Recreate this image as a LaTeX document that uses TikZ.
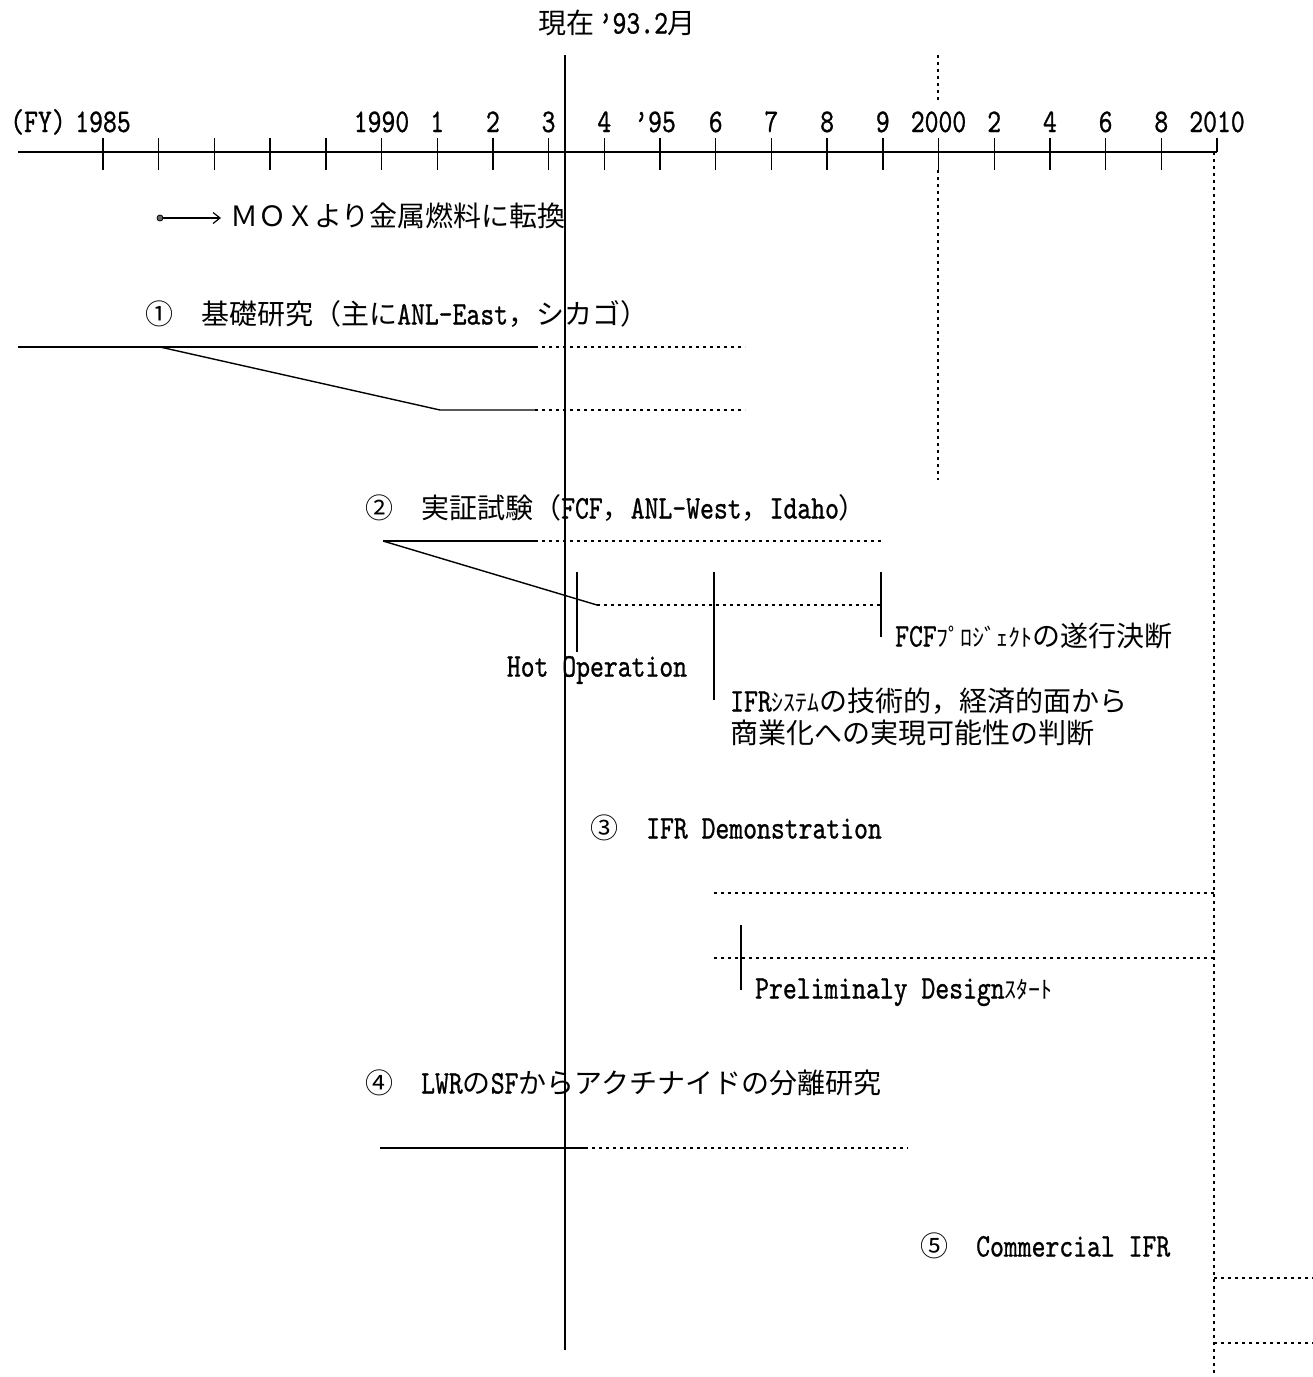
\documentclass[tikz,border=0pt]{standalone}
\usepackage{fontspec}
\usetikzlibrary{arrows.meta}
\newfontfamily\cjk{Noto Sans CJK JP}
\newfontfamily\latf[Extension=.otf, FakeStretch=0.8, FakeBold=0.8]{lmmono10-regular}
\newcommand\lt[1]{{\latf\fontsize{33}{33}\selectfont #1}}
\newcommand\hk[1]{{\fontsize{24}{24}\selectfont #1}}
\tikzset{
  jtxt/.style={font=\cjk\fontsize{28}{31}\selectfont, inner sep=0pt, anchor=west, text height=22pt, text depth=5pt},
  ltxt/.style={font=\latf\fontsize{33}{33}\selectfont, inner sep=0pt},
  solidln/.style={line width=1.4pt},
  dotln/.style={line width=1.4pt, dash pattern=on 3pt off 4pt},
  axln/.style={line width=1.6pt},
}
\begin{document}
\begin{tikzpicture}[x=1pt,y=-1pt]
\useasboundingbox (0,0) rectangle (1313,1377);

% title
\node[jtxt, anchor=center] (now) at (617,25) {現在\,\lt{’93.2}月};

% axis
\coordinate (axL) at (18,152);
\coordinate (axR) at (1217,152);
\draw[axln] (axL) -- (axR);
\foreach \k in {0,...,19} \draw[solidln] ({103+55.7*\k},138) -- ({103+55.7*\k},170);
\draw[solidln] (1217,138) -- (axR);
\node[ltxt, anchor=base] (fy) at (38,132) {(FY)};
\foreach \k/\t in {0/1985,5/1990,6/1,7/2,8/3,9/4,11/6,12/7,13/8,14/9,15/2000,16/2,17/4,18/6,19/8,20/2010}
  \node[ltxt, anchor=base] (lbl\k) at ({103+55.7*\k},132) {\t};
\node[ltxt, anchor=base] (lbl10) at (655,132) {’95};

% now line
\coordinate (nowT) at (565,55);
\coordinate (nowB) at (565,1350);
\draw[line width=1.2pt] (nowT) -- (nowB);

% dotted verticals
\coordinate (v2kT) at (938,55);
\coordinate (v2kM) at (938,100);
\coordinate (v2kN) at (938,170);
\coordinate (v2kB) at (938,480);
\draw[dotln] (v2kT) -- (v2kM);
\draw[dotln] (v2kN) -- (v2kB);
\coordinate (v10T) at (1214,152);
\coordinate (v10B) at (1214,1377);
\draw[dotln] (v10T) -- (v10B);

% MOX
\node[circle, draw, fill=black!60, inner sep=0pt, minimum size=6pt, line width=0.8pt] (moxdot) at (160,218) {};
\node[jtxt] (mox) at (230,218) {ＭＯＸより金属燃料に転換};
\draw[line width=1.2pt, -{Straight Barb[length=7pt,width=11pt]}] (moxdot) -- ([xshift=-9pt]mox.west);

% (1)
\node[jtxt] (r1) at (145,316) {①　基礎研究（主に\lt{ANL-East}，シカゴ）};
\coordinate (a1) at (18,347);
\coordinate (b1) at (160,347);
\coordinate (c1) at (535,347);
\coordinate (d1) at (745,347);
\coordinate (e1) at (440,410);
\coordinate (f1) at (535,410);
\coordinate (g1) at (745,410);
\draw[solidln] (a1) -- (c1);
\draw[dotln] (c1) -- (d1);
\draw[solidln] (b1) -- (e1) -- (f1);
\draw[dotln] (f1) -- (g1);

% (2)
\node[jtxt] (r2) at (365,510) {②　実証試験（\lt{FCF}，\lt{ANL-West}，\lt{Idaho}）};
\coordinate (a2) at (383,541);
\coordinate (c2) at (535,541);
\coordinate (d2) at (882,541);
\coordinate (e2) at (597,605);
\coordinate (f2) at (882,605);
\draw[solidln] (a2) -- (c2);
\draw[dotln] (c2) -- (d2);
\draw[solidln] (a2) -- (e2);
\draw[dotln] (e2) -- (f2);
\coordinate (m1t) at (577,572); \coordinate (m1b) at (577,652);
\coordinate (m2t) at (714,572); \coordinate (m2b) at (714,700);
\coordinate (m3t) at (881,572); \coordinate (m3b) at (881,637);
\draw[solidln] (m1t) -- (m1b);
\draw[solidln] (m2t) -- (m2b);
\draw[solidln] (m3t) -- (m3b);
\node[ltxt, anchor=center] (hot) at (597,670) {Hot Operation};
\node[jtxt] (fcf) at (895,638) {\lt{FCF}\hk{ﾌﾟﾛｼﾞｪｸﾄ}の遂行決断};
\node[jtxt] (ifr1) at (730,703) {\lt{IFR}\hk{ｼｽﾃﾑ}の技術的，経済的面から};
\node[jtxt] (ifr2) at (730,735) {商業化への実現可能性の判断};

% (3)
\node[jtxt] (r3) at (590,830) {③　\lt{IFR Demonstration}};
\coordinate (a3) at (714,893);
\coordinate (b3) at (1214,893);
\coordinate (c3) at (714,958);
\coordinate (d3) at (1214,958);
\draw[dotln] (a3) -- (b3);
\draw[dotln] (c3) -- (d3);
\coordinate (m4t) at (741,925); \coordinate (m4b) at (741,990);
\draw[solidln] (m4t) -- (m4b);
\node[jtxt] (pd) at (755,990) {\lt{Preliminaly Design}\hk{ｽﾀｰﾄ}};

% (4)
\node[jtxt] (r4) at (365,1085) {④　\lt{LWR}の\lt{SF}からアクチナイドの分離研究};
\coordinate (a4) at (380,1148);
\coordinate (b4) at (585,1148);
\coordinate (c4) at (908,1148);
\draw[solidln] (a4) -- (b4);
\draw[dotln] (b4) -- (c4);

% (5)
\node[jtxt] (r5) at (920,1248) {⑤　\lt{Commercial IFR}};
\coordinate (a5) at (1214,1278);
\coordinate (b5) at (1313,1278);
\coordinate (c5) at (1214,1343);
\coordinate (d5) at (1313,1343);
\draw[dotln] (a5) -- (b5);
\draw[dotln] (c5) -- (d5);
\end{tikzpicture}
\end{document}
